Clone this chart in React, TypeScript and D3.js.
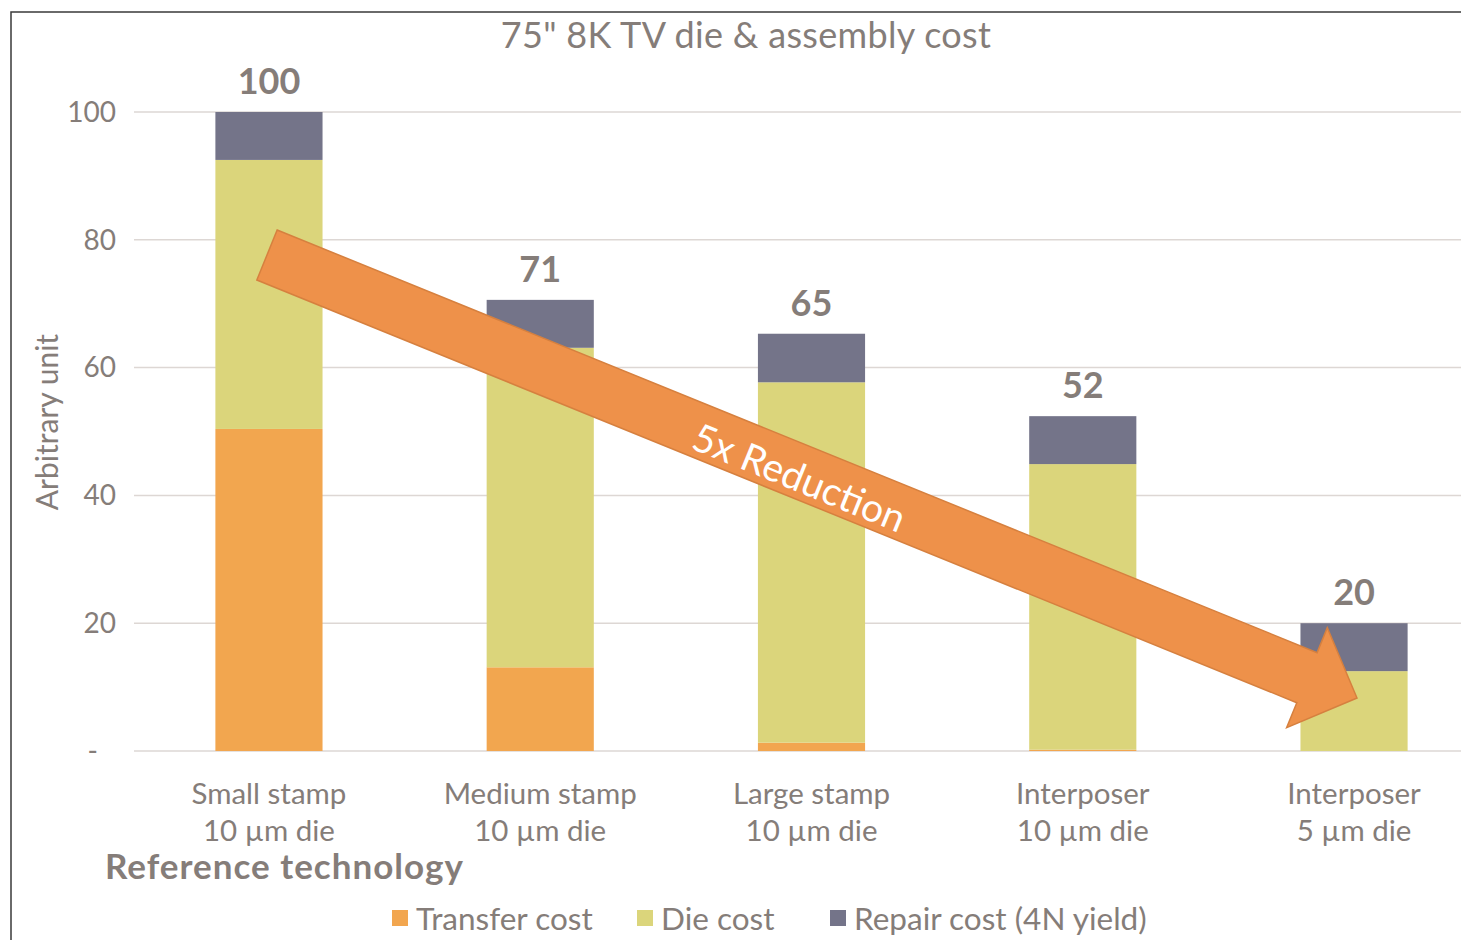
import * as d3 from 'd3';
import { useEffect, useRef } from 'react';

const categories = ['Small stamp|10 µm die', 'Medium stamp|10 µm die', 'Large stamp|10 µm die', 'Interposer|10 µm die', 'Interposer|5 µm die'];
const transferCost = [50.4, 13.1, 1.3, 0.2, 0];
const dieCost = [42.1, 50.0, 56.4, 44.7, 12.5];
const repairCost = [7.5, 7.5, 7.6, 7.5, 7.5];
const totals = ['100', '71', '65', '52', '20'];
const yTicks = [0, 20, 40, 60, 80, 100];
const seriesNames = ['Transfer cost', 'Die cost', 'Repair cost (4N yield)'];
const seriesColors = ['#f2a64f', '#dbd57b', '#747489'];

const W = 1461;
const H = 940;
const FONT = 'Lato, "Open Sans", sans-serif';
const TXT = '#857d79';

export default function App() {
  const ref = useRef<SVGSVGElement>(null);

  useEffect(() => {
    document.body.style.margin = '0';
    if (!ref.current) return;
    const svg = d3.select(ref.current);
    svg.selectAll('*').remove();

    const x = d3.scaleBand().domain(categories).range([134, 1489]).paddingInner(0.605).paddingOuter(0.3);
    const y = d3.scaleLinear().domain([0, 100]).range([751, 112]);

    // frame
    svg.append('rect').attr('x', 11).attr('y', 12).attr('width', W + 20).attr('height', H + 20)
      .attr('fill', '#fff').attr('stroke', '#3a3a3a').attr('stroke-width', 1.5);

    // title
    svg.append('text').text('75" 8K TV die & assembly cost')
      .attr('x', 746).attr('y', 48).attr('text-anchor', 'middle')
      .attr('font-size', 36).attr('letter-spacing', 0.3).attr('fill', TXT);

    // grid
    svg.append('g').selectAll('line').data(yTicks).join('line')
      .attr('x1', 134).attr('x2', W).attr('y1', (d) => y(d)).attr('y2', (d) => y(d))
      .attr('stroke', '#ddd7d4').attr('stroke-width', 1.5);

    // y tick labels
    svg.append('g').selectAll('text').data(yTicks).join('text')
      .text((d) => (d === 0 ? '-' : String(d)))
      .attr('x', (d) => (d === 0 ? 98 : 116)).attr('y', (d) => y(d)).attr('dy', '0.35em')
      .attr('text-anchor', 'end').attr('font-size', 28).attr('fill', TXT);

    svg.append('text').text('Arbitrary unit')
      .attr('transform', 'translate(58,422) rotate(-90)').attr('text-anchor', 'middle')
      .attr('font-size', 30).attr('fill', TXT);

    // stacked bars
    const rows = categories.map((c, i) => ({ cat: c, t: transferCost[i], d: dieCost[i], r: repairCost[i] }));
    const stack = d3.stack<any>().keys(['t', 'd', 'r'])(rows);
    svg.append('g').selectAll('g').data(stack).join('g')
      .attr('fill', (_, i) => seriesColors[i])
      .selectAll('rect').data((s) => s).join('rect')
      .attr('x', (d: any) => x(d.data.cat)!)
      .attr('width', x.bandwidth())
      .attr('y', (d) => y(d[1]))
      .attr('height', (d) => Math.max(0, y(d[0]) - y(d[1])));

    // totals
    svg.append('g').selectAll('text').data(rows).join('text')
      .text((_, i) => totals[i])
      .attr('x', (d) => x(d.cat)! + x.bandwidth() / 2)
      .attr('y', (d) => y(d.t + d.d + d.r) - 18)
      .attr('text-anchor', 'middle').attr('font-size', 36).attr('font-weight', 700).attr('fill', TXT);

    // x labels
    const xl = svg.append('g').selectAll('text').data(categories).join('text')
      .attr('x', (d) => x(d)! + x.bandwidth() / 2).attr('y', 804)
      .attr('text-anchor', 'middle').attr('font-size', 29.5).attr('fill', TXT);
    xl.selectAll('tspan').data((d) => d.split('|')).join('tspan')
      .attr('x', function () { return (this as any).parentNode.getAttribute('x'); })
      .attr('dy', (_, i) => (i === 0 ? 0 : 37)).text((d) => d);

    svg.append('text').text('Reference technology')
      .attr('x', 105).attr('y', 879).attr('font-size', 35).attr('letter-spacing', 1)
      .attr('font-weight', 700).attr('fill', TXT);

    // arrow
    const tail = [267, 255];
    const tip = [1357, 698];
    const len = Math.hypot(tip[0] - tail[0], tip[1] - tail[1]);
    const ang = (Math.atan2(tip[1] - tail[1], tip[0] - tail[0]) * 180) / Math.PI;
    const sw = 27, hw = 54, hl = 54;
    const ag = svg.append('g').attr('transform', `translate(${tail[0]},${tail[1]}) rotate(${ang})`);
    ag.append('path')
      .attr('d', `M0,${-sw} L${len - hl},${-sw} L${len - hl},${-hw} L${len},0 L${len - hl},${hw} L${len - hl},${sw} L0,${sw} Z`)
      .attr('fill', '#ee914a').attr('stroke', '#d6803f').attr('stroke-width', 1.5);
    ag.append('text').text('5x Reduction')
      .attr('x', 577).attr('y', 6).attr('dy', '0.35em').attr('text-anchor', 'middle')
      .attr('font-size', 39).attr('fill', '#fff');

    // legend
    const lx = [392, 637, 830];
    const lg = svg.append('g').selectAll('g').data(seriesNames).join('g')
      .attr('transform', (_, i) => `translate(${lx[i]},0)`);
    lg.append('rect').attr('x', 0).attr('y', 910).attr('width', 16).attr('height', 16)
      .attr('fill', (_, i) => seriesColors[i]);
    lg.append('text').text((d) => d).attr('x', 24).attr('y', 930)
      .attr('font-size', 31.5).attr('fill', TXT);
  }, []);

  return <svg ref={ref} width={W} height={H} style={{ display: 'block', fontFamily: FONT }} />;
}
